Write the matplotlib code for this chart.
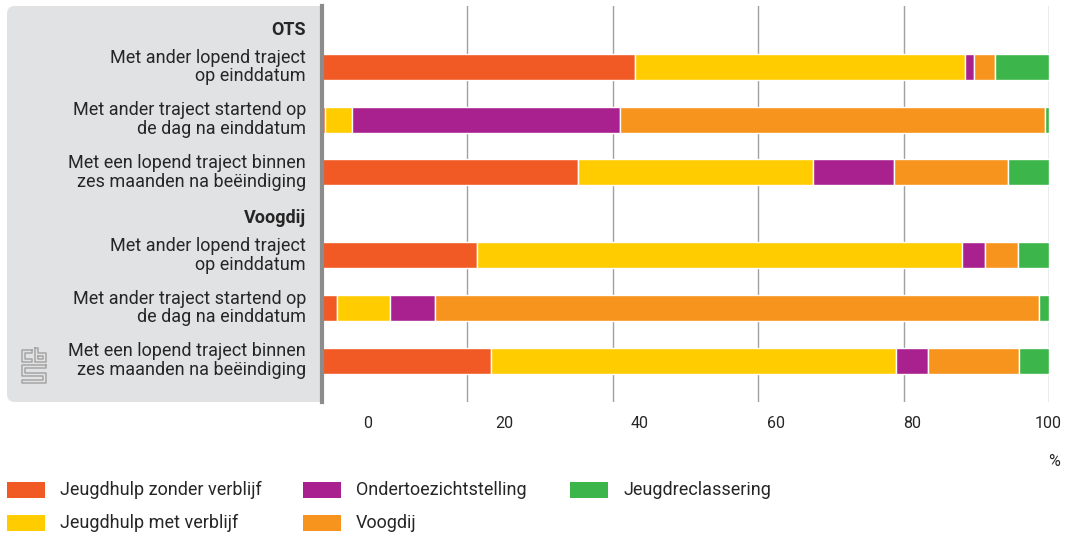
import matplotlib.pyplot as plt
from matplotlib.patches import FancyBboxPatch, Rectangle

plt.rcParams['font.family'] = ['Roboto', 'DejaVu Sans']

groups = ["OTS", "Voogdij"]
row_labels = [
    "Met ander lopend traject\nop einddatum",
    "Met ander traject startend op\nde dag na einddatum",
    "Met een lopend traject binnen\nzes maanden na beëindiging",
] * 2
series = [
    "Jeugdhulp zonder verblijf",
    "Jeugdhulp met verblijf",
    "Ondertoezichtstelling",
    "Voogdij",
    "Jeugdreclassering",
]
colors = ["#f15a24", "#ffcc00", "#a8218e", "#f7941d", "#3cb54a"]

# percentages per row (OTS rows first, then Voogdij rows)
zonder_verblijf = [43.0, 0.4, 35.2, 21.3, 2.1, 23.2]
met_verblijf = [45.4, 3.7, 32.3, 66.8, 7.3, 55.7]
ondertoezicht = [1.3, 36.9, 11.2, 3.1, 6.2, 4.5]
voogdij = [2.9, 58.4, 15.7, 4.6, 83.0, 12.5]
reclassering = [7.4, 0.6, 5.6, 4.2, 1.4, 4.1]
values = [zonder_verblijf, met_verblijf, ondertoezicht, voogdij, reclassering]

ticks = [0, 20, 40, 60, 80, 100]

# row layout: two groups of three bars, each group with a header above
row_y = [0, 1, 2, 3.575, 4.575, 5.575]
header_y = [-0.70, 2.865]

txt = "#262626"
W, H = 1068, 536
fig = plt.figure(figsize=(W / 100, H / 100), dpi=100)

# background layer in pixel units: label panel, logo, legend
bg = fig.add_axes([0, 0, 1, 1], zorder=-1)
bg.set_xlim(0, W)
bg.set_ylim(H, 0)
bg.axis("off")
bg.add_patch(FancyBboxPatch((7, 6), 323, 396,
                            boxstyle="round,pad=0,rounding_size=8",
                            fc="#e1e2e4", ec="none"))

# cbs logo, outline style
logo = [
    [(32, 350), (22, 350), (22, 362), (32, 362), (32, 359), (25, 359), (25, 353), (32, 353), (32, 350)],
    [(35, 348), (38, 348), (38, 353), (46, 353), (46, 362), (35, 362), (35, 348)],
    [(38, 356), (43, 356), (43, 359), (38, 359), (38, 356)],
    [(46, 365), (22, 365), (22, 376), (43, 376), (43, 380), (22, 380), (22, 383),
     (46, 383), (46, 373), (25, 373), (25, 368), (46, 368), (46, 365)],
]
for pts in logo:
    xs, ys = zip(*pts)
    bg.plot(xs, ys, color="#a5a5a5", lw=1.1)

# legend
leg_x = [7, 303, 570]
leg_y = [490, 523]
for i, (name, c) in enumerate(zip(series, colors)):
    x0, y0 = leg_x[i // 2], leg_y[i % 2]
    bg.add_patch(Rectangle((x0, y0 - 8), 38, 16, fc=c, ec="none"))
    bg.text(x0 + 53, y0, name, va="center", ha="left", fontsize=13,
            color=txt)

bg.text(1054, 461, "%", ha="center", va="center", fontsize=11.5, color=txt)

# bars
ax = fig.add_axes([322 / W, (H - 402) / H, 727 / W, 396 / H])
ax.set_facecolor("white")
left = [0.0] * len(row_y)
for vals, c, name in zip(values, colors, series):
    ax.barh(row_y, vals, left=left, height=0.49, color=c,
            edgecolor="white", linewidth=1, label=name)
    left = [l + v for l, v in zip(left, vals)]

ax.set_xlim(0, 100)
ax.set_ylim(6.357, -1.157)
ax.set_xticks(ticks)
ax.set_yticks([])
ax.grid(axis="x", color="#a0a0a0", lw=1)
ax.set_axisbelow(True)
ax.tick_params(axis="x", length=0, labelbottom=False)
for s in ["top", "right", "bottom"]:
    ax.spines[s].set_visible(False)
ax.spines["left"].set_color("#8c8c8c")
ax.spines["left"].set_linewidth(3)

# row and group labels sit in the grey panel to the left
lab_x = -16 / 727
for y, lab in zip(row_y, row_labels):
    ax.text(lab_x, y, lab, transform=ax.get_yaxis_transform(), ha="right",
            va="center", fontsize=13, color=txt, linespacing=1.05)
for y, g in zip(header_y, groups):
    ax.text(lab_x, y, g, transform=ax.get_yaxis_transform(), ha="right",
            va="center", fontsize=13, fontweight="bold", color=txt)

# value axis labels, drawn on a shifted scale
a, b = 6.33, 0.9353
sec = ax.secondary_xaxis("bottom", functions=(lambda x: (x - a) / b,
                                              lambda s: a + b * s))
sec.set_xticks(ticks)
sec.tick_params(length=0, pad=10, labelsize=11.5, labelcolor=txt)
sec.spines["bottom"].set_visible(False)

fig.savefig("out.png", dpi=100)
